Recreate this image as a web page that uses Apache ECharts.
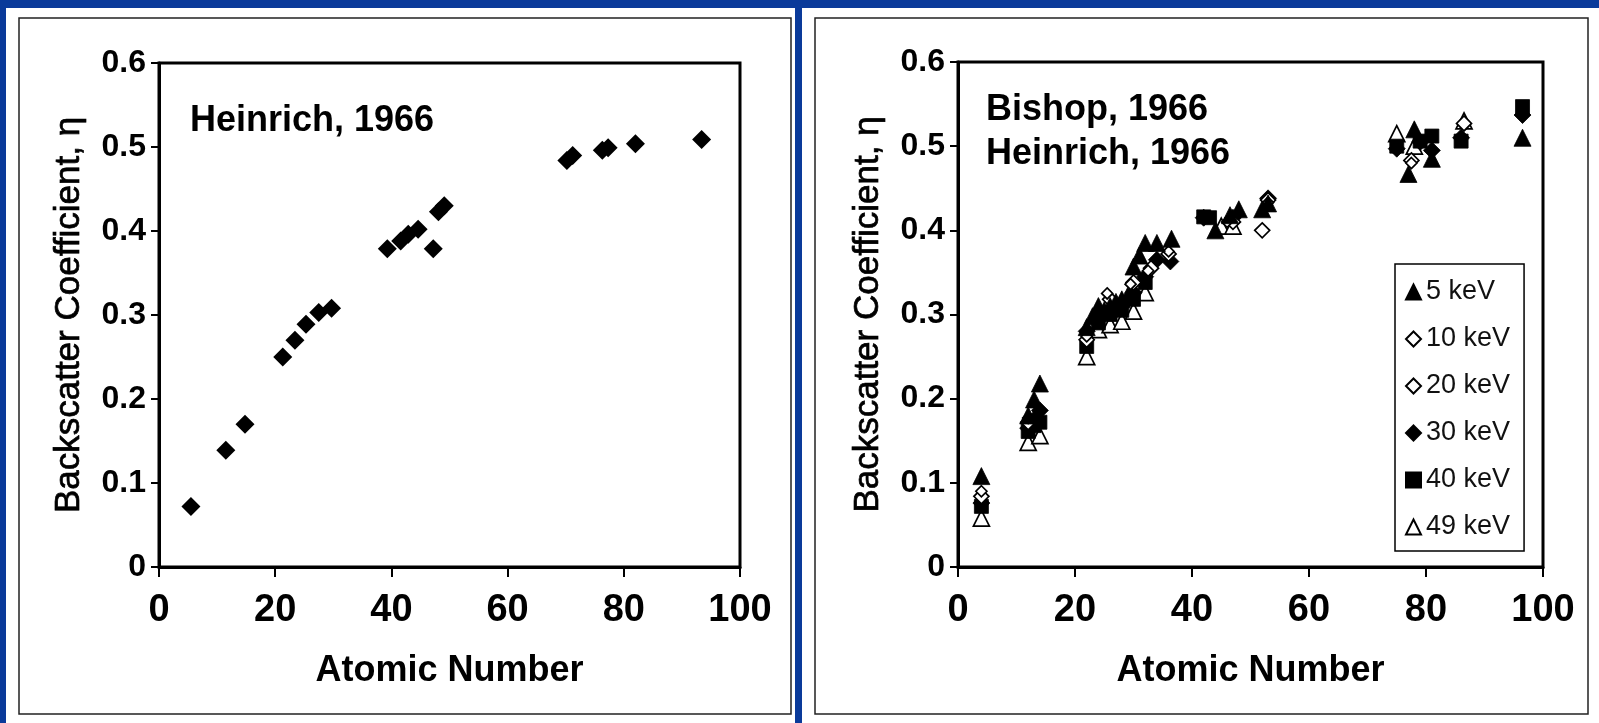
<!DOCTYPE html>
<html>
<head>
<meta charset="utf-8">
<script src="https://cdn.jsdelivr.net/npm/echarts@6/dist/echarts.min.js"></script>
<style>
html,body{margin:0;padding:0;background:#0a3a9a;}
#c{width:1599px;height:723px;}
</style>
</head>
<body>
<div id="c"></div>
<script>
// ---- Data ----
const heinrichZ   = [5.5, 11.5, 14.8, 21.3, 23.4, 25.3, 27.5, 29.7, 39.3, 41.6, 42.9, 44.6, 47.2, 48.1, 49.1, 70.2, 71.2, 76.3, 77.3, 82.0, 93.4];
const heinrichEta = [0.072, 0.139, 0.170, 0.250, 0.270, 0.289, 0.303, 0.308, 0.379, 0.388, 0.396, 0.402, 0.379, 0.423, 0.430, 0.484, 0.490, 0.496, 0.499, 0.504, 0.509];

const kev5Z   = [4, 12, 13, 14, 22, 23, 24, 25, 26, 27, 28, 29, 30, 31, 32, 34, 36.5, 44, 46.5, 48, 52, 53, 77, 78, 81, 96.5];
const kev5Eta = [0.108, 0.180, 0.199, 0.218, 0.285, 0.298, 0.310, 0.305, 0.310, 0.315, 0.318, 0.322, 0.357, 0.370, 0.385, 0.385, 0.390, 0.400, 0.418, 0.425, 0.425, 0.432, 0.467, 0.520, 0.485, 0.510];

const kev10Z   = [4, 12, 22, 25.5, 29.5, 32.5, 36, 46, 53, 77.5];
const kev10Eta = [0.090, 0.177, 0.274, 0.325, 0.336, 0.352, 0.375, 0.410, 0.433, 0.480];

const kev20Z   = [4, 12, 22, 26, 30, 33, 36, 47, 52, 53, 77.5, 86.5];
const kev20Eta = [0.084, 0.172, 0.270, 0.318, 0.338, 0.355, 0.372, 0.410, 0.400, 0.436, 0.483, 0.527];

const kev30Z   = [4, 12, 13, 14, 22, 24, 26, 28, 30, 32, 34, 36.3, 42, 47, 53, 75, 79, 81, 86, 96.5];
const kev30Eta = [0.076, 0.165, 0.175, 0.186, 0.280, 0.296, 0.305, 0.311, 0.326, 0.345, 0.365, 0.363, 0.415, 0.415, 0.438, 0.497, 0.505, 0.495, 0.510, 0.537];

const kev40Z   = [4, 12, 13, 14, 22, 24, 26, 28, 30, 32, 42, 43, 75, 79, 81, 86, 96.5];
const kev40Eta = [0.072, 0.161, 0.168, 0.172, 0.262, 0.290, 0.300, 0.305, 0.318, 0.338, 0.416, 0.415, 0.500, 0.506, 0.512, 0.506, 0.547];

const kev49Z   = [4, 12, 14, 22, 24, 26, 28, 30, 32, 45, 47, 75, 78, 86.5];
const kev49Eta = [0.058, 0.148, 0.156, 0.250, 0.282, 0.288, 0.292, 0.304, 0.326, 0.405, 0.405, 0.515, 0.500, 0.530];

const legendNames = ['5 keV', '10 keV', '20 keV', '30 keV', '40 keV', '49 keV'];
const xAxisTitle = 'Atomic Number';
const yAxisTitle = 'Backscatter Coefficient, \u03B7';

// ---- Build ----
const zip = (a, b) => a.map((v, i) => [v, b[i]]);
const FONT = "'Liberation Sans', Arial, sans-serif";

function xAxisCfg(gi) {
  return {
    gridIndex: gi, type: 'value', min: 0, max: 100, interval: 20,
    name: xAxisTitle, nameLocation: 'middle', nameGap: 86,
    nameTextStyle: {fontFamily: FONT, fontWeight: 'bold', fontSize: 36, color: '#000'},
    axisLine: {show: true, lineStyle: {color: '#000', width: 3}},
    axisTick: {show: true, inside: false, length: 10, lineStyle: {color: '#000', width: 2}},
    axisLabel: {fontFamily: FONT, fontWeight: 'bold', fontSize: 38, color: '#000', margin: 25},
    splitLine: {show: false}
  };
}
function yAxisCfg(gi) {
  return {
    gridIndex: gi, type: 'value', min: 0, max: 0.6, interval: 0.1,
    name: yAxisTitle, nameLocation: 'middle', nameGap: 72,
    nameTextStyle: {fontFamily: FONT, fontSize: 35, color: '#000', textBorderColor: '#000', textBorderWidth: 0.7},
    axisLine: {show: true, lineStyle: {color: '#000', width: 3}},
    axisTick: {show: true, inside: false, length: 8, lineStyle: {color: '#000', width: 2}},
    axisLabel: {fontFamily: FONT, fontWeight: 'bold', fontSize: 32, color: '#000', margin: 13},
    splitLine: {show: false}
  };
}

const filled = {color: '#000', borderColor: '#000', borderWidth: 0.8, opacity: 1};
const open = {color: '#fff', borderColor: '#000', borderWidth: 1.7, opacity: 1};

const rightSeries = [
  {name: '49 keV', data: zip(kev49Z, kev49Eta), symbol: 'triangle', symbolSize: 16, itemStyle: open},
  {name: '40 keV', data: zip(kev40Z, kev40Eta), symbol: 'rect', symbolSize: 14, itemStyle: filled},
  {name: '30 keV', data: zip(kev30Z, kev30Eta), symbol: 'diamond', symbolSize: 17, itemStyle: filled},
  {name: '20 keV', data: zip(kev20Z, kev20Eta), symbol: 'diamond', symbolSize: 15, itemStyle: open},
  {name: '10 keV', data: zip(kev10Z, kev10Eta), symbol: 'diamond', symbolSize: 11, itemStyle: open},
  {name: '5 keV', data: zip(kev5Z, kev5Eta), symbol: 'triangle', symbolSize: 17, itemStyle: filled}
].map(s => Object.assign({type: 'scatter', xAxisIndex: 1, yAxisIndex: 1, emphasis: {disabled: true}}, s));

const option = {
  backgroundColor: '#0a3a9a',
  animation: false,
  textStyle: {fontFamily: FONT},
  graphic: [
    {type: 'rect', z: -10, shape: {x: 6, y: 8, width: 789, height: 715}, style: {fill: '#fff'}},
    {type: 'rect', z: -10, shape: {x: 802, y: 8, width: 797, height: 715}, style: {fill: '#fff'}},
    {type: 'rect', z: -9, shape: {x: 19, y: 18, width: 772, height: 696}, style: {fill: 'none', stroke: '#222', lineWidth: 1.5}},
    {type: 'rect', z: -9, shape: {x: 815, y: 18, width: 773, height: 696}, style: {fill: 'none', stroke: '#222', lineWidth: 1.5}},
    {type: 'text', left: 190, top: 103, style: {text: 'Heinrich, 1966', font: "bold 36px 'Liberation Sans', Arial", fill: '#000'}},
    {type: 'text', left: 986, top: 88, style: {text: 'Bishop, 1966\nHeinrich, 1966', font: "bold 36px 'Liberation Sans', Arial", lineHeight: 44, fill: '#000'}}
  ],
  grid: [
    {left: 159, top: 63, width: 581, height: 504, show: true, borderColor: '#000', borderWidth: 3, backgroundColor: '#fff'},
    {left: 958, top: 62, width: 585, height: 505, show: true, borderColor: '#000', borderWidth: 3, backgroundColor: '#fff'}
  ],
  xAxis: [xAxisCfg(0), xAxisCfg(1)],
  yAxis: [yAxisCfg(0), yAxisCfg(1)],
  legend: {
    data: legendNames,
    orient: 'vertical',
    left: 1395, top: 264,
    padding: [13, 14, 9, 10],
    itemGap: 17,
    itemWidth: 15, itemHeight: 15,
    borderColor: '#000', borderWidth: 1.5,
    backgroundColor: '#fff',
    selectedMode: false,
    textStyle: {fontFamily: FONT, fontSize: 27, color: '#111', lineHeight: 30}
  },
  series: [
    {type: 'scatter', name: 'Heinrich', xAxisIndex: 0, yAxisIndex: 0, symbol: 'diamond', symbolSize: 19,
     itemStyle: {color: '#000', opacity: 1}, data: zip(heinrichZ, heinrichEta), emphasis: {disabled: true}}
  ].concat(rightSeries)
};

const chart = echarts.init(document.getElementById('c'), null, {renderer: 'canvas'});
chart.setOption(option);
</script>
</body>
</html>
